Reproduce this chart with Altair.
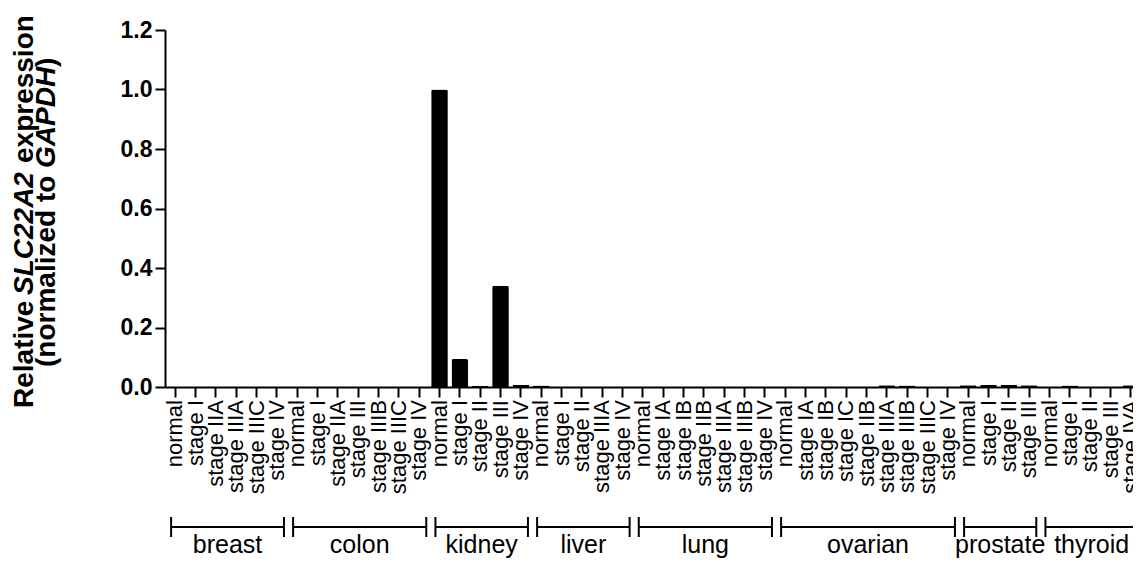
import altair as alt
import pandas as pd

# ---------------- data ----------------
groups = ["breast", "colon", "kidney", "liver", "lung", "ovarian", "prostate", "thyroid"]

breast_stages = ["normal", "stage I", "stage IIA", "stage IIIA", "stage IIIC", "stage IV"]
breast_values = [0.0, 0.0, 0.0, 0.0, 0.0, 0.0]

colon_stages = ["normal", "stage I", "stage IIA", "stage III", "stage IIIB", "stage IIIC", "stage IV"]
colon_values = [0.0, 0.0, 0.0, 0.0, 0.0, 0.0, 0.0]

kidney_stages = ["normal", "stage I", "stage II", "stage III", "stage IV"]
kidney_values = [1.0, 0.094, 0.004, 0.340, 0.007]

liver_stages = ["normal", "stage I", "stage II", "stage IIIA", "stage IV"]
liver_values = [0.005, 0.0, 0.0, 0.0, 0.0]

lung_stages = ["normal", "stage IA", "stage IB", "stage IIB", "stage IIIA", "stage IIIB", "stage IV"]
lung_values = [0.0, 0.0, 0.0, 0.0, 0.0, 0.0, 0.0]

ovarian_stages = ["normal", "stage IA", "stage IB", "stage IC", "stage IIB",
                  "stage IIIA", "stage IIIB", "stage IIIC", "stage IV"]
ovarian_values = [0.0, 0.0, 0.0, 0.0, 0.0, 0.006, 0.005, 0.0, 0.0]

prostate_stages = ["normal", "stage I", "stage II", "stage III"]
prostate_values = [0.006, 0.007, 0.007, 0.006]

thyroid_stages = ["normal", "stage I", "stage II", "stage III", "stage IVA"]
thyroid_values = [0.0, 0.005, 0.0, 0.0, 0.006]

stage_lists = [breast_stages, colon_stages, kidney_stages, liver_stages,
               lung_stages, ovarian_stages, prostate_stages, thyroid_stages]
value_lists = [breast_values, colon_values, kidney_values, liver_values,
               lung_values, ovarian_values, prostate_values, thyroid_values]

y_ticks = [0.0, 0.2, 0.4, 0.6, 0.8, 1.0, 1.2]

# ---------------- tables ----------------
rows, keys, grp_rows, cap_rows = [], [], [], []
idx = 0
for g, stages, vals in zip(groups, stage_lists, value_lists):
    start = idx
    for s, v in zip(stages, vals):
        k = f"{g}|{s}"
        keys.append(k)
        rows.append({"key": k, "stage": s, "value": v})
        idx += 1
    end = idx
    a, b = start + 0.3, end - 0.15
    grp_rows.append({"group": g, "start": a, "end": b, "mid": (a + b) / 2})
    cap_rows.append({"pos": a})
    cap_rows.append({"pos": b})
N = idx

df = pd.DataFrame(rows)
gdf = pd.DataFrame(grp_rows)
cdf = pd.DataFrame(cap_rows)

# plot area: 968 px visible, x scale runs on to 976 px (clipped at the page edge)
W, H, XR = 968, 357, 976
PAD = {"left": 157, "top": 22, "right": 0, "bottom": 172}
FONT = "Liberation Sans"


def band_x(axis):
    return alt.X("key:N", sort=keys,
                 scale=alt.Scale(paddingInner=0.18, paddingOuter=0.09, range=[0, XR]),
                 axis=axis)


bars = alt.Chart(df).mark_bar(color="black", cornerRadiusTopLeft=2, cornerRadiusTopRight=2).encode(
    x=band_x(alt.Axis(title=None, labels=False,
                      tickSize=10, tickWidth=2, tickColor="black",
                      domainColor="black", domainWidth=2)),
    y=alt.Y("value:Q", scale=alt.Scale(domain=[0, 1.2], nice=False),
            axis=alt.Axis(title=None, values=y_ticks, format=".1f", grid=False,
                          labelFont=FONT, labelFontSize=23, labelFontWeight="bold",
                          labelColor="black", labelPadding=3,
                          tickSize=10, tickWidth=2, tickColor="black",
                          domainColor="black", domainWidth=2)),
)

xlabels = alt.Chart(df).mark_text(font=FONT, fontSize=22, color="black", angle=270,
                                  align="right", baseline="middle").encode(
    x=band_x(None),
    y=alt.value(H + 13),
    text="stage:N",
)

qx = alt.Scale(domain=[0, N], nice=False, zero=False, range=[0, XR])

brackets = alt.Chart(gdf).mark_rule(color="black", strokeWidth=2).encode(
    x=alt.X("start:Q", scale=qx, axis=None),
    x2="end:Q",
    y=alt.value(497),
)
caps = alt.Chart(cdf).mark_rule(color="black", strokeWidth=2).encode(
    x=alt.X("pos:Q", scale=qx, axis=None),
    y=alt.value(487),
    y2=alt.value(507),
)
glabels = alt.Chart(gdf).mark_text(font=FONT, fontSize=25, color="black",
                                   baseline="alphabetic", align="center").encode(
    x=alt.X("mid:Q", scale=qx, axis=None),
    y=alt.value(523),
    text="group:N",
)

# y-axis title built from text pieces (mixed italic)
def seg(txt, xpos, ypos, italic=False):
    return alt.Chart(pd.DataFrame({"t": [txt]})).mark_text(
        font=FONT, fontSize=28, fontWeight="bold",
        fontStyle="italic" if italic else "normal",
        angle=270, align="left", baseline="alphabetic", color="black",
    ).encode(x=alt.value(xpos), y=alt.value(ypos), text="t:N")

title_layers = [
    seg("Relative", -132, 378),
    seg("SLC22A2", -132, 265, True),
    seg("expression", -132, 133),
    seg("(normalized to", -110, 337),
    seg("GAPDH", -110, 138, True),
    seg(")", -110, 37),
]

chart = alt.layer(bars, xlabels, brackets, caps, glabels, *title_layers).resolve_scale(
    x="independent"
).properties(
    width=W, height=H,
    padding=PAD,
    autosize=alt.AutoSizeParams(type="none"),
    background="white",
).configure_view(stroke=None)

chart.save("out.html", embed_options={"renderer": "svg", "actions": False})
